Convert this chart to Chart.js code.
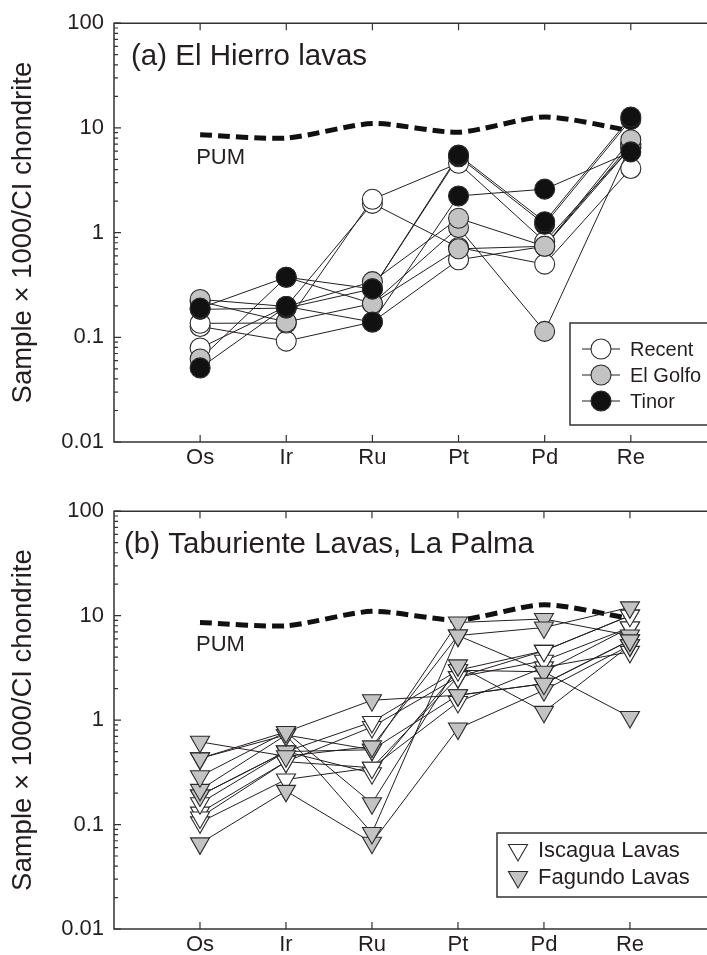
<!DOCTYPE html>
<html>
<head>
<meta charset="utf-8">
<script src="https://cdn.jsdelivr.net/npm/chart.js@4.4.0/dist/chart.umd.min.js"></script>
<style>
  body { margin: 0; background: #fff; }
  #wrap { position: relative; width: 707px; height: 955px; overflow: hidden; }
  canvas { position: absolute; left: 0; }
</style>
</head>
<body>
<div id="wrap">
  <!-- canvases run a little past the window: the right spine of the original is cut off too -->
  <canvas id="chartA" width="719" height="488" style="top:0"></canvas>
  <canvas id="chartB" width="719" height="467" style="top:488px"></canvas>
</div>
<script>
// Elements along the x axis
const elements = ['Os', 'Ir', 'Ru', 'Pt', 'Pd', 'Re'];
const yTickValues = [0.01, 0.1, 1, 10, 100];
const yTickLabels = ['0.01', '0.1', '1', '10', '100'];

// Primitive upper mantle (same curve in both panels)
const pumValues = [8.6, 8.0, 11.0, 9.1, 12.7, 9.4];

// (a) El Hierro lavas
const recentSamples = [
    [0.136, 0.137, 2.08, 4.6, 0.82, 6.5],
    [0.079, 0.197, 1.9, 0.72, 0.50, 4.1],
    [0.127, 0.092, 0.14, 0.55, 0.74, 7.0]
];
const elGolfoSamples = [
    [0.23, 0.197, 0.34, 1.37, 0.74, 7.7],
    [0.22, 0.14, 0.21, 1.12, 0.114, 6.9],
    [0.062, 0.375, 0.21, 0.70, 0.74, 6.5]
];
const tinorSamples = [
    [0.19, 0.375, 0.29, 5.5, 1.27, 12.7],
    [0.051, 0.197, 0.14, 2.24, 2.6, 5.9],
    [0.185, 0.19, 0.29, 5.3, 1.2, 12.0]
];

// (b) Taburiente lavas, La Palma
const iscaguaSamples = [
    [0.16, 0.50, 0.96, 3.0, 4.6, 10],
    [0.117, 0.40, 0.86, 2.58, 3.7, 7.7],
    [0.105, 0.27, 0.35, 1.49, 3.2, 4.5],
    [0.19, 0.50, 0.31, 3.0, 2.9, 7.7],
    [0.13, 0.40, 0.35, 2.58, 4.6, 10]
];
const fagundoSamples = [
    [0.62, 0.45, 0.56, 6.45, 7.7, 12],
    [0.43, 0.77, 1.55, 1.73, 2.23, 5.8],
    [0.43, 0.72, 0.52, 8.6, 9.3, 6.45],
    [0.29, 0.77, 0.16, 3.34, 1.2, 5.2],
    [0.215, 0.72, 0.083, 6.45, 2.9, 1.07],
    [0.066, 0.21, 0.067, 0.83, 1.93, 5.2],
    [0.19, 0.50, 0.52, 1.73, 2.23, 5.8]
];

const FONT = 'Liberation Sans, Arial, Helvetica, sans-serif';
const INK = '#231f20';
const GREY = '#c3c3c3';

function toPoints(values) {
    return values.map((v, i) => ({ x: i + 1, y: v }));
}

// line datasets sit under the marker datasets (higher order is drawn first)
function sampleSets(samples, marker) {
    const lines = samples.map(s => ({
        data: toPoints(s),
        showLine: true,
        borderColor: INK,
        borderWidth: 1,
        pointRadius: 0,
        order: 1
    }));
    const points = samples.map(s => ({
        data: toPoints(s),
        showLine: false,
        pointStyle: marker.style,
        rotation: marker.rotation,
        pointRadius: marker.radius,
        backgroundColor: marker.fill,
        borderColor: '#2b2b2b',
        borderWidth: 1.1,
        order: 0
    }));
    return { lines, points };
}

function pumSet() {
    return {
        data: toPoints(pumValues),
        showLine: true,
        borderColor: '#111',
        borderWidth: 5,
        borderDash: [12, 6],
        tension: 0.25,
        pointRadius: 0,
        order: 2
    };
}

// draw a legend marker by hand
function drawMarker(ctx, m, x, y) {
    ctx.save();
    ctx.fillStyle = m.fill;
    ctx.strokeStyle = '#2b2b2b';
    ctx.lineWidth = 1.1;
    ctx.beginPath();
    if (m.style === 'circle') {
        ctx.arc(x, y, m.radius, 0, Math.PI * 2);
    } else {
        const r = m.radius;
        ctx.moveTo(x, y + r);
        ctx.lineTo(x - r * Math.sqrt(3) / 2, y - r / 2);
        ctx.lineTo(x + r * Math.sqrt(3) / 2, y - r / 2);
        ctx.closePath();
    }
    ctx.fill();
    ctx.stroke();
    ctx.restore();
}

// axis frame with inward ticks, log minor ticks
const framePlugin = {
    id: 'frame',
    afterDatasetsDraw(chart) {
        const { ctx, chartArea: a, scales: { x, y } } = chart;
        ctx.save();
        ctx.strokeStyle = '#333';
        ctx.lineWidth = 1.5;
        ctx.beginPath();
        ctx.moveTo(a.right + 2, a.top);
        ctx.lineTo(a.left, a.top);
        ctx.lineTo(a.left, a.bottom);
        ctx.lineTo(a.right + 2, a.bottom);
        ctx.stroke();

        ctx.lineWidth = 1.2;
        ctx.beginPath();
        elements.forEach((e, i) => {
            const px = x.getPixelForValue(i + 1);
            ctx.moveTo(px, a.bottom);
            ctx.lineTo(px, a.bottom - 7);
            ctx.moveTo(px, a.top);
            ctx.lineTo(px, a.top + 7);
        });
        yTickValues.forEach((d, i) => {
            const py = y.getPixelForValue(d);
            ctx.moveTo(a.left, py);
            ctx.lineTo(a.left + 7, py);
            if (i < yTickValues.length - 1) {
                for (let k = 2; k <= 9; k++) {
                    const pm = y.getPixelForValue(d * k);
                    ctx.moveTo(a.left, pm);
                    ctx.lineTo(a.left + 4, pm);
                }
            }
        });
        ctx.stroke();
        ctx.restore();
    }
};

// panel title, PUM label and legend box
const notesPlugin = {
    id: 'notes',
    afterDraw(chart, args, opts) {
        const { ctx, chartArea: a, scales: { x, y } } = chart;
        ctx.save();
        ctx.fillStyle = INK;
        ctx.textBaseline = 'middle';
        ctx.textAlign = 'left';
        ctx.font = '29.5px ' + FONT;
        ctx.fillText(opts.title, opts.titleX, a.top + 34);

        ctx.font = '22px ' + FONT;
        ctx.fillText('PUM', x.getPixelForValue(1) - 4, y.getPixelForValue(5.2));

        const b = opts.legendBox;
        ctx.strokeStyle = '#333';
        ctx.lineWidth = 1.5;
        ctx.strokeRect(b.x, b.y, b.w, b.h);
        ctx.font = opts.legendFont + 'px ' + FONT;
        opts.legendItems.forEach((item, i) => {
            const cy = b.y + opts.legendFirst + i * opts.legendStep;
            if (opts.legendLine) {
                ctx.strokeStyle = INK;
                ctx.lineWidth = 1;
                ctx.beginPath();
                ctx.moveTo(opts.markerX - 19, cy);
                ctx.lineTo(opts.markerX + 19, cy);
                ctx.stroke();
            }
            drawMarker(ctx, item.marker, opts.markerX, cy);
            ctx.fillStyle = INK;
            ctx.fillText(item.label, opts.textX, cy + 1);
        });
        ctx.restore();
    }
};

function makeChart(canvasId, groups, layout, notes) {
    const datasets = [pumSet()];
    const pointSets = [];
    groups.forEach(g => {
        const s = sampleSets(g.samples, g.marker);
        datasets.push(...s.lines);
        pointSets.push(...s.points);
    });
    datasets.push(...pointSets);

    new Chart(document.getElementById(canvasId), {
        type: 'scatter',
        data: { datasets },
        plugins: [framePlugin, notesPlugin],
        options: {
            responsive: false,
            animation: false,
            layout: { padding: { top: layout.top, right: 0, bottom: 0, left: 0 } },
            plugins: {
                legend: { display: false },
                tooltip: { enabled: false },
                notes: notes
            },
            scales: {
                x: {
                    type: 'linear',
                    min: 0,
                    max: 6.895,
                    afterBuildTicks: s => { s.ticks = elements.map((e, i) => ({ value: i + 1 })); },
                    afterFit: s => {
                        s.height = layout.xHeight;
                        s.paddingLeft = 0;
                        s.paddingRight = 0;
                    },
                    ticks: {
                        callback: (v, i) => elements[i],
                        autoSkip: false,
                        maxRotation: 0,
                        padding: 3,
                        color: INK,
                        font: { family: FONT, size: 22 }
                    },
                    grid: { display: false, drawTicks: false },
                    border: { display: false }
                },
                y: {
                    type: 'logarithmic',
                    min: 0.01,
                    max: 100,
                    afterBuildTicks: s => { s.ticks = yTickValues.map(v => ({ value: v })); },
                    afterFit: s => { s.width = 114; },
                    ticks: {
                        callback: (v, i) => yTickLabels[i],
                        padding: 10,
                        color: INK,
                        font: { family: FONT, size: 22 }
                    },
                    grid: { display: false, drawTicks: false },
                    border: { display: false },
                    title: {
                        display: true,
                        text: 'Sample × 1000/CI chondrite',
                        color: INK,
                        font: { family: FONT, size: 27.5 },
                        padding: { top: 7, bottom: 0 }
                    }
                }
            }
        }
    });
}

const circleWhite = { style: 'circle', rotation: 0, radius: 10, fill: '#ffffff' };
const circleGrey = { style: 'circle', rotation: 0, radius: 10, fill: GREY };
const circleBlack = { style: 'circle', rotation: 0, radius: 10, fill: '#111111' };
const triWhite = { style: 'triangle', rotation: 180, radius: 11, fill: '#ffffff' };
const triGrey = { style: 'triangle', rotation: 180, radius: 11, fill: GREY };

makeChart('chartA', [
    { samples: tinorSamples, marker: circleBlack },
    { samples: elGolfoSamples, marker: circleGrey },
    { samples: recentSamples, marker: circleWhite }
], { top: 21, xHeight: 46 }, {
    title: '(a) El Hierro lavas',
    titleX: 131,
    legendBox: { x: 570, y: 323, w: 140, h: 102 },
    legendFirst: 26, legendStep: 26,
    legendFont: 20, legendLine: true,
    markerX: 601, textX: 630,
    legendItems: [
        { label: 'Recent', marker: circleWhite },
        { label: 'El Golfo', marker: circleGrey },
        { label: 'Tinor', marker: circleBlack }
    ]
});

makeChart('chartB', [
    { samples: fagundoSamples, marker: triGrey },
    { samples: iscaguaSamples, marker: triWhite }
], { top: 20, xHeight: 26 }, {
    title: '(b) Taburiente Lavas, La Palma',
    titleX: 124,
    legendBox: { x: 497, y: 345, w: 214, h: 64 },
    legendFirst: 17, legendStep: 27,
    legendFont: 22, legendLine: false,
    markerX: 518, textX: 538,
    legendItems: [
        { label: 'Iscagua Lavas', marker: triWhite },
        { label: 'Fagundo Lavas', marker: triGrey }
    ]
});
</script>
</body>
</html>
